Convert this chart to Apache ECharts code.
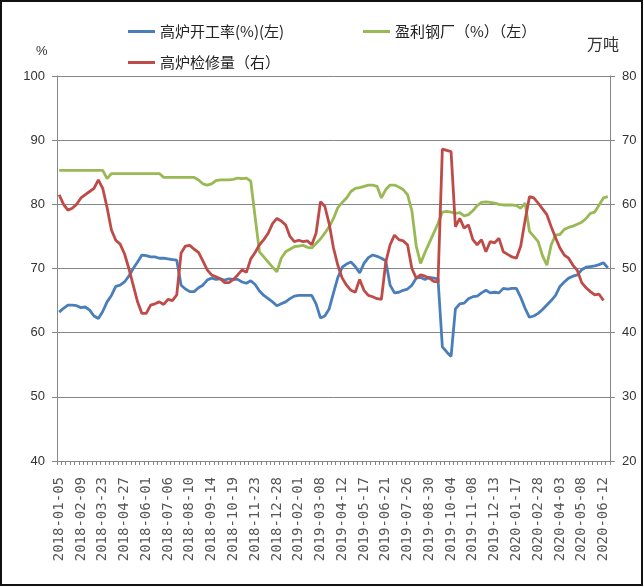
<!DOCTYPE html>
<html>
<head>
<meta charset="utf-8">
<script src="https://cdn.jsdelivr.net/npm/echarts@6/dist/echarts.min.js"></script>
<style>
html,body{margin:0;padding:0;background:#fff;}
#chart{width:644px;height:587px;}
</style>
</head>
<body>
<div id="chart"></div>
<script>
var dates = [
'2018-01-05','2018-01-12','2018-01-19','2018-01-26','2018-02-02','2018-02-09','2018-02-23','2018-03-02','2018-03-09','2018-03-16',
'2018-03-23','2018-03-30','2018-04-06','2018-04-13','2018-04-20','2018-04-27','2018-05-04','2018-05-11','2018-05-18','2018-05-25',
'2018-06-01','2018-06-08','2018-06-15','2018-06-22','2018-06-29','2018-07-06','2018-07-13','2018-07-20','2018-07-27','2018-08-03',
'2018-08-10','2018-08-17','2018-08-24','2018-08-31','2018-09-07','2018-09-14','2018-09-21','2018-09-28','2018-10-05','2018-10-12',
'2018-10-19','2018-10-26','2018-11-02','2018-11-09','2018-11-16','2018-11-23','2018-11-30','2018-12-07','2018-12-14','2018-12-21',
'2018-12-28','2019-01-04','2019-01-11','2019-01-18','2019-01-25','2019-02-01','2019-02-08','2019-02-15','2019-02-22','2019-03-01',
'2019-03-08','2019-03-15','2019-03-22','2019-03-29','2019-04-05','2019-04-12','2019-04-19','2019-04-26','2019-05-03','2019-05-10',
'2019-05-17','2019-05-24','2019-05-31','2019-06-07','2019-06-14','2019-06-21','2019-06-28','2019-07-05','2019-07-12','2019-07-19',
'2019-07-26','2019-08-02','2019-08-09','2019-08-16','2019-08-23','2019-08-30','2019-09-06','2019-09-13','2019-09-20','2019-09-27',
'2019-10-04','2019-10-11','2019-10-18','2019-10-25','2019-11-01','2019-11-08','2019-11-15','2019-11-22','2019-11-29','2019-12-06',
'2019-12-13','2019-12-20','2019-12-27','2020-01-03','2020-01-10','2020-01-17','2020-01-24','2020-02-07','2020-02-14','2020-02-21',
'2020-02-28','2020-03-06','2020-03-13','2020-03-20','2020-03-27','2020-04-03','2020-04-10','2020-04-17','2020-04-24','2020-05-01',
'2020-05-08','2020-05-15','2020-05-22','2020-05-29','2020-06-05','2020-06-12','2020-06-19'
];

// 高炉开工率 (%) 左轴
var blastRate = [
63.2,63.8,64.3,64.3,64.2,63.9,64.0,63.5,62.6,62.2,
63.3,64.8,65.8,67.2,67.4,67.9,68.8,70.0,71.0,72.1,
72.0,71.8,71.8,71.6,71.6,71.5,71.4,71.3,67.4,66.8,
66.4,66.4,67.0,67.4,68.2,68.5,68.3,68.4,68.2,68.4,
68.3,68.3,67.9,67.7,68.1,67.5,66.5,65.8,65.3,64.8,
64.2,64.5,64.8,65.3,65.7,65.8,65.8,65.8,65.8,64.5,
62.3,62.6,63.7,66.2,68.6,70.2,70.7,71.0,70.3,69.3,
70.8,71.7,72.1,71.9,71.6,71.2,67.4,66.2,66.3,66.6,
66.8,67.4,68.5,68.6,68.3,68.6,68.5,68.4,57.8,57.0,
56.3,63.7,64.5,64.6,65.3,65.6,65.7,66.2,66.6,66.2,
66.3,66.2,66.9,66.8,66.9,66.9,65.5,63.8,62.4,62.6,
63.0,63.6,64.3,65.0,65.8,67.2,67.9,68.5,68.8,69.0,
69.8,70.2,70.3,70.4,70.6,70.9,70.1
];

// 盈利钢厂 (%) 左轴
var profitMills = [
85.3,85.3,85.3,85.3,85.3,85.3,85.3,85.3,85.3,85.3,
85.3,84.0,84.8,84.8,84.8,84.8,84.8,84.8,84.8,84.8,
84.8,84.8,84.8,84.8,84.2,84.2,84.2,84.2,84.2,84.2,
84.2,84.2,83.8,83.2,83.0,83.2,83.7,83.8,83.8,83.8,
83.9,84.1,84.0,84.1,83.6,78.0,72.6,71.8,71.0,70.2,
69.5,71.6,72.6,73.0,73.4,73.5,73.6,73.3,73.2,73.9,
74.6,75.5,76.5,77.8,79.5,80.3,81.0,82.0,82.5,82.6,
82.8,83.0,83.0,82.8,81.0,82.3,83.0,83.0,82.7,82.3,
81.5,79.0,73.5,70.8,72.5,74.0,75.5,77.0,78.8,78.9,
78.8,78.6,78.7,78.2,78.4,79.0,79.8,80.3,80.4,80.3,
80.2,80.0,79.9,79.9,79.9,79.8,79.4,80.2,75.8,75.0,
74.2,72.0,70.5,73.7,75.2,75.3,76.1,76.4,76.6,76.9,
77.2,77.8,78.6,78.8,79.9,81.0,81.2
];

// 高炉检修量 (万吨) 右轴
var maintenance = [
61.5,60.0,59.1,59.4,60.0,61.0,61.5,62.0,62.5,63.8,
62.5,59.5,56.0,54.4,53.8,52.3,50.0,47.4,44.8,43.0,
43.0,44.3,44.5,44.8,44.4,45.2,45.0,45.9,52.4,53.5,
53.6,53.0,52.5,51.2,49.8,49.0,48.7,48.4,47.8,47.8,
48.3,49.0,49.8,49.4,51.5,52.5,53.7,54.5,55.5,57.0,
57.8,57.4,56.8,55.0,54.2,54.4,54.2,54.3,53.7,55.5,
60.4,59.7,57.0,53.2,50.5,48.5,47.4,46.6,46.3,48.3,
46.6,45.8,45.6,45.3,45.2,51.0,53.7,55.2,54.5,54.3,
53.7,50.0,48.5,49.0,48.8,48.5,48.0,47.9,68.6,68.4,
68.2,56.5,57.8,56.3,56.8,54.5,53.7,54.5,52.6,54.2,
54.0,54.7,52.6,52.2,51.8,51.6,53.5,57.5,61.2,61.0,
60.2,59.3,58.4,56.5,54.8,53.2,52.1,51.6,50.5,49.7,
47.8,47.0,46.4,45.9,46.0,45.0,null
];

var seriesNames = ['高炉开工率(%)(左)', '盈利钢厂（%）（左）', '高炉检修量（右）'];
var leftTicks = {min: 40, max: 100, interval: 10};
var rightTicks = {min: 20, max: 80, interval: 10};

var axisColor = '#868686';
var cjk = '"Noto Sans CJK SC", sans-serif';

var chart = echarts.init(document.getElementById('chart'), null, {renderer: 'canvas'});
chart.setOption({
  animation: false,
  backgroundColor: '#fff',
  grid: {left: 57, right: 34, top: 76, bottom: 126, containLabel: false},
  legend: [
    {data: [seriesNames[0]], left: 123, top: 19, icon: 'rect', itemWidth: 27, itemHeight: 3, itemGap: 5,
     textStyle: {fontSize: 15, color: '#222', fontFamily: cjk}},
    {data: [seriesNames[1]], left: 358, top: 19, icon: 'rect', itemWidth: 27, itemHeight: 3, itemGap: 5,
     textStyle: {fontSize: 15, color: '#222', fontFamily: cjk}},
    {data: [seriesNames[2]], left: 123, top: 50, icon: 'rect', itemWidth: 27, itemHeight: 3, itemGap: 5,
     textStyle: {fontSize: 15, color: '#222', fontFamily: cjk}}
  ],
  xAxis: {
    type: 'category',
    data: dates,
    boundaryGap: true,
    axisLine: {lineStyle: {color: axisColor, width: 1}},
    axisTick: {show: true, interval: 0, length: 4, lineStyle: {color: axisColor}},
    axisLabel: {interval: 4, rotate: 90, margin: 16, fontSize: 14, color: '#555',
                fontFamily: '"DejaVu Sans Mono", monospace'}
  },
  yAxis: [
    {type: 'value', position: 'left', min: leftTicks.min, max: leftTicks.max, interval: leftTicks.interval,
     axisLine: {show: true, lineStyle: {color: axisColor}},
     axisTick: {show: true, length: 5, lineStyle: {color: axisColor}},
     axisLabel: {fontSize: 13, color: '#333', margin: 12, fontFamily: '"Liberation Sans", sans-serif'},
     splitLine: {show: true, lineStyle: {color: axisColor, width: 1}}},
    {type: 'value', position: 'right', min: rightTicks.min, max: rightTicks.max, interval: rightTicks.interval,
     axisLine: {show: true, lineStyle: {color: axisColor}},
     axisTick: {show: true, length: 5, lineStyle: {color: axisColor}},
     axisLabel: {fontSize: 13, color: '#333', margin: 12, fontFamily: '"Liberation Sans", sans-serif'},
     splitLine: {show: false}}
  ],
  series: [
    {name: seriesNames[0], type: 'line', yAxisIndex: 0, data: blastRate, showSymbol: false,
     itemStyle: {color: '#4A7EBB'}, lineStyle: {color: '#4A7EBB', width: 2.8}, z: 2},
    {name: seriesNames[1], type: 'line', yAxisIndex: 0, data: profitMills, showSymbol: false,
     itemStyle: {color: '#98B954'}, lineStyle: {color: '#98B954', width: 2.8}, z: 3},
    {name: seriesNames[2], type: 'line', yAxisIndex: 1, data: maintenance, showSymbol: false,
     itemStyle: {color: '#BE4B48'}, lineStyle: {color: '#BE4B48', width: 2.8}, z: 4}
  ],
  graphic: [
    {type: 'rect', shape: {x: 1, y: 1, width: 641, height: 584}, style: {fill: 'none', stroke: '#111', lineWidth: 2}, silent: true},
    {type: 'text', left: 36, top: 45, style: {text: '%', fontSize: 13, fill: '#333', fontFamily: '"Liberation Sans", sans-serif'}},
    {type: 'text', left: 587, top: 36, style: {text: '万吨', fontSize: 16, fill: '#333', fontFamily: cjk}}
  ]
});
</script>
</body>
</html>
